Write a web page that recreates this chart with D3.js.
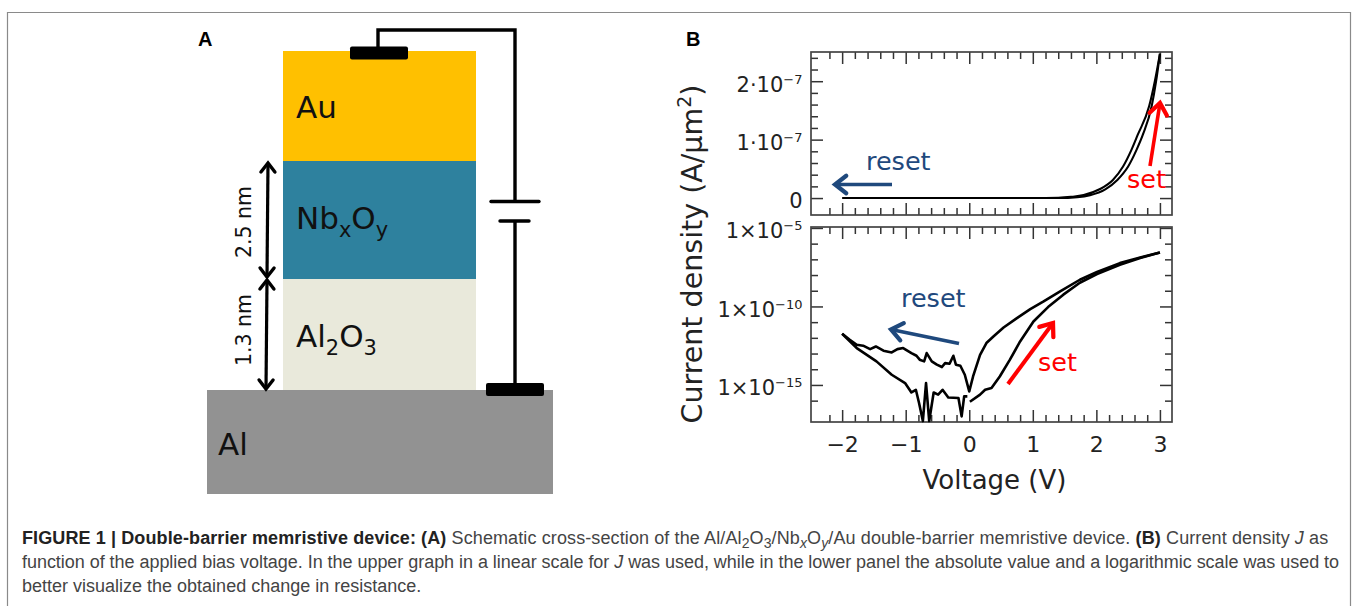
<!DOCTYPE html>
<html>
<head>
<meta charset="utf-8">
<script src="https://cdnjs.cloudflare.com/ajax/libs/d3/7.8.5/d3.min.js"></script>
<style>
body { margin: 0; background: #fff; }
svg { display: block; }
text { font-family: "DejaVu Sans", sans-serif; }
.caption text { font-family: "Liberation Sans", Arial, sans-serif; font-size: 18px; fill: #444; }
.panel-letter { font-family: "Liberation Sans", Arial, sans-serif; font-weight: bold; font-size: 20px; }
.axis line { stroke: #333; stroke-width: 1.5; }
.axis path { display: none; }
.axis text { font-size: 22px; fill: #222; }
.ylab text { font-size: 21px; }
.frame { fill: none; stroke: #444; stroke-width: 1.7; }
.curve { fill: none; stroke: #000; stroke-width: 2.6; stroke-linejoin: round; }
.curve.thin { stroke-width: 2.1; }
</style>
</head>
<body>
<script>
const width = 1357, height = 606;

// panel B, upper graph: J in units of 1e-7 A/um2
const linLeftV = [-2, -1, 0, 1, 1.4, 1.6, 1.8, 2.05, 2.26, 2.42, 2.55, 2.65, 2.83, 2.92, 3];
const linLeftJ = [0, 0, 0, 0, 0.005, 0.02, 0.05, 0.15, 0.31, 0.54, 0.82, 1.08, 1.57, 2.0, 2.47];
const linRightV = [1.2, 1.4, 1.7, 1.9, 2.14, 2.33, 2.5, 2.63, 2.73, 2.87, 2.94, 3];
const linRightJ = [0, 0, 0.015, 0.05, 0.15, 0.31, 0.54, 0.82, 1.08, 1.57, 2.0, 2.47];

// panel B, lower graph: log10 of |J|
const resetV = [-2, -1.88, -1.77, -1.67, -1.56, -1.47, -1.35, -1.22, -1.13, -1.04, -0.91, -0.83, -0.78, -0.71, -0.67, -0.59, -0.51, -0.43, -0.38, -0.31, -0.25, -0.21, -0.14, -0.07, 0, 0.06, 0.17, 0.27, 0.38, 0.54, 0.75, 0.96, 1.17, 1.43, 1.74, 2.01, 2.37, 2.69, 3];
const resetLogJ = [-11.74, -12.12, -12.44, -12.5, -12.72, -12.55, -12.82, -12.93, -12.72, -12.65, -12.97, -13.14, -13.39, -13.5, -12.97, -13.5, -13.71, -13.86, -13.61, -13.65, -13.14, -13.71, -13.78, -14.35, -15.41, -14.46, -13.08, -12.33, -11.91, -11.34, -10.74, -10.17, -9.68, -9.04, -8.3, -7.81, -7.24, -6.88, -6.56];
const returnV = [-2, -1.77, -1.46, -1.22, -1.01, -0.91, -0.84, -0.79, -0.73, -0.68, -0.63, -0.56, -0.49, -0.42, -0.33, -0.17, -0.12, -0.08, -0.03];
const returnLogJ = [-11.74, -12.65, -13.5, -14.35, -14.88, -15.48, -15.31, -16.15, -17.3, -14.88, -17.3, -15.48, -15.62, -15.31, -15.8, -15.83, -17, -15.73, -15.73];
const setV = [0.01, 0.17, 0.25, 0.35, 0.48, 0.64, 0.8, 1.01, 1.24, 1.48, 1.74, 2.01, 2.37, 2.69, 3];
const setLogJ = [-16.07, -15.62, -15.31, -15.2, -14.46, -13.39, -12.23, -10.96, -10.04, -9.25, -8.49, -7.94, -7.34, -6.92, -6.56];

// ticks
const xMajor = [-2, -1, 0, 1, 2, 3];
const xMinor = [-2.2, -1.8, -1.6, -1.4, -1.2, -0.8, -0.6, -0.4, -0.2, 0.2, 0.4, 0.6, 0.8, 1.2, 1.4, 1.6, 1.8, 2.2, 2.4, 2.6, 2.8];
const linMajor = [0, 1, 2];
const linMinor = [0.2, 0.4, 0.6, 0.8, 1.2, 1.4, 1.6, 1.8, 2.2, 2.4];
const linLabels = [["0", ""], ["1·10", "−7"], ["2·10", "−7"]];
const logMajor = [-15, -10, -5];
const logMinor = [-16, -14, -13, -12, -11, -9, -8, -7, -6];
const logLabels = [["1×10", "−15"], ["1×10", "−10"], ["1×10", "−5"]];

// panel A
const layerNames = ["Al", "Al2O3", "NbxOy", "Au"];
const layerHeights = [104, 111, 118, 110];
const layerColors = ["#929292", "#e9e9db", "#2e819e", "#ffc000"];

const captionLines = [
  [["FIGURE 1 | Double-barrier memristive device: (A)", "b"], [" Schematic cross-section of the Al/Al"], ["2", "s"], ["O"], ["3", "s"], ["/Nb"], ["x", "si"], ["O"], ["y", "si"], ["/Au double-barrier memristive device. "], ["(B)", "b"], [" Current density "], ["J", "i"], [" as"]],
  [["function of the applied bias voltage. In the upper graph in a linear scale for "], ["J", "i"], [" was used, while in the lower panel the absolute value and a logarithmic scale was used to"]],
  [["better visualize the obtained change in resistance."]]
];

const svg = d3.select("body").append("svg")
  .attr("width", width)
  .attr("height", height);

// outer figure border, open at the bottom
svg.append("path")
  .attr("d", "M7.5,606V12.5H1350.5V606")
  .attr("fill", "none")
  .attr("stroke", "#8a8a8a")
  .attr("stroke-width", 1.2);

function arrowMarker(id, color, size) {
  svg.append("defs").append("marker")
    .attr("id", id)
    .attr("markerUnits", "userSpaceOnUse")
    .attr("viewBox", "-12 -10 20 20")
    .attr("markerWidth", size)
    .attr("markerHeight", size)
    .attr("refX", 0).attr("refY", 0)
    .attr("orient", "auto-start-reverse")
    .append("path")
    .attr("d", "M-9,-7L0,0L-9,7")
    .attr("fill", "none")
    .attr("stroke", color)
    .attr("stroke-width", 3.4)
    .attr("stroke-linecap", "round");
}
arrowMarker("headBlack", "#000", 20);
arrowMarker("headBlue", "#1f497d", 25);
arrowMarker("headRed", "#ff0000", 25);

function arrow(x1, y1, x2, y2, color, head, w) {
  svg.append("line")
    .attr("x1", x1).attr("y1", y1).attr("x2", x2).attr("y2", y2)
    .attr("stroke", color)
    .attr("stroke-width", w)
    .attr("marker-end", `url(#${head})`);
}

// ---- panel A ----
const stackY = d3.scaleLinear().domain([0, d3.sum(layerHeights)]).range([494, 51]);
let base = 0;
layerNames.forEach((name, i) => {
  const top = base + layerHeights[i];
  svg.append("rect")
    .attr("x", i === 0 ? 207 : 283)
    .attr("width", i === 0 ? 346 : 193)
    .attr("y", stackY(top))
    .attr("height", stackY(base) - stackY(top))
    .attr("fill", layerColors[i]);
  base = top;
});

function layerLabel(x, y, parts) {
  const t = svg.append("text").attr("x", x).attr("y", y).attr("font-size", 31).attr("fill", "#111");
  let low = false;
  parts.forEach(p => {
    const sub = p[1] === "s";
    const span = t.append("tspan").text(p[0]);
    if (sub) span.attr("font-size", 21).attr("dy", 8);
    else if (low) span.attr("dy", -8);
    low = sub;
  });
}
layerLabel(296, 118, [["Au"]]);
layerLabel(296, 229, [["Nb"], ["x", "s"], ["O"], ["y", "s"]]);
layerLabel(296, 347, [["Al"], ["2", "s"], ["O"], ["3", "s"]]);
layerLabel(218, 455, [["Al"]]);

// circuit
const wire = d3.line();
svg.append("path")
  .attr("d", wire([[378, 50], [378, 30], [515, 30], [515, 201]]))
  .attr("fill", "none").attr("stroke", "#000").attr("stroke-width", 3.4);
svg.append("path")
  .attr("d", wire([[515, 221], [515, 385]]))
  .attr("fill", "none").attr("stroke", "#000").attr("stroke-width", 3.4);
svg.append("rect").attr("x", 350).attr("y", 46.5).attr("width", 58).attr("height", 13).attr("rx", 2);
svg.append("rect").attr("x", 486).attr("y", 383).attr("width", 58).attr("height", 13).attr("rx", 2);
svg.append("line").attr("x1", 491).attr("x2", 539).attr("y1", 201.5).attr("y2", 201.5)
  .attr("stroke", "#000").attr("stroke-width", 3.4).attr("stroke-linecap", "round");
svg.append("line").attr("x1", 500).attr("x2", 529).attr("y1", 221).attr("y2", 221)
  .attr("stroke", "#000").attr("stroke-width", 3.4).attr("stroke-linecap", "round");

// thickness arrows
svg.append("line").attr("x1", 268).attr("y1", 163).attr("x2", 267).attr("y2", 277)
  .attr("stroke", "#000").attr("stroke-width", 3.2)
  .attr("marker-start", "url(#headBlack)").attr("marker-end", "url(#headBlack)");
svg.append("line").attr("x1", 267).attr("y1", 280).attr("x2", 266).attr("y2", 389)
  .attr("stroke", "#000").attr("stroke-width", 3.2)
  .attr("marker-start", "url(#headBlack)").attr("marker-end", "url(#headBlack)");
[["2.5 nm", 222], ["1.3 nm", 330]].forEach(([s, cy]) => {
  svg.append("text")
    .attr("transform", `translate(251,${cy}) rotate(-90)`)
    .attr("text-anchor", "middle")
    .attr("font-size", 20.5)
    .attr("fill", "#111")
    .text(s);
});

svg.append("text").attr("class", "panel-letter").attr("x", 198).attr("y", 46).text("A");
svg.append("text").attr("class", "panel-letter").attr("x", 686).attr("y", 46).text("B");

// ---- panel B ----
const plotLeft = 811, plotRight = 1172;
const scaleX = d3.scaleLinear().domain([-2.49, 3.19]).range([plotLeft, plotRight]);
const scaleLin = d3.scaleLinear().domain([-0.29, 2.5]).range([215, 52]);
const scaleLog = d3.scaleLog().domain([Math.pow(10, -17.36), Math.pow(10, -4.94)]).range([422, 227]);

function drawTicks(cls, axisFn, scale, values, len, transform, padding, fmt) {
  return svg.append("g")
    .attr("class", "axis " + cls)
    .attr("transform", transform)
    .call(axisFn(scale).tickValues(values).tickSizeInner(-len).tickSizeOuter(0)
      .tickPadding(padding).tickFormat(fmt || ""));
}

function xTicks(top, bottom) {
  drawTicks("x", d3.axisTop, scaleX, xMinor, 7, `translate(0,${top})`, 3);
  drawTicks("x", d3.axisTop, scaleX, xMajor, 12, `translate(0,${top})`, 3);
  drawTicks("x", d3.axisBottom, scaleX, xMinor, 7, `translate(0,${bottom})`, 3);
}

function yTicks(scale, major, minor, labels) {
  drawTicks("y", d3.axisRight, scale, minor, 7, `translate(${plotRight},0)`, 3);
  drawTicks("y", d3.axisRight, scale, major, 12, `translate(${plotRight},0)`, 3);
  drawTicks("y", d3.axisLeft, scale, minor, 7, `translate(${plotLeft},0)`, 3);
  const g = drawTicks("y ylab", d3.axisLeft, scale, major, 12, `translate(${plotLeft},0)`, 8.5, () => "");
  g.selectAll(".tick text").each(function(d, i) {
    const t = d3.select(this).attr("dy", "0.47em");
    t.append("tspan").text(labels[i][0]);
    if (labels[i][1]) {
      t.append("tspan").attr("font-size", 13).attr("dy", -8).text(labels[i][1]);
    }
  });
}

// upper graph
xTicks(52, 215);
svg.append("g").attr("class", "axis x")
  .attr("transform", "translate(0,215)")
  .call(d3.axisBottom(scaleX).tickValues(xMajor).tickSizeInner(-12).tickSizeOuter(0).tickFormat(""));
yTicks(scaleLin, linMajor, linMinor, linLabels);
svg.append("rect").attr("class", "frame").attr("x", plotLeft).attr("y", 52).attr("width", plotRight - plotLeft).attr("height", 163);

const lineLin = d3.line().curve(d3.curveMonotoneX).x(d => scaleX(d[0])).y(d => scaleLin(d[1]));
svg.append("path").attr("class", "curve thin").attr("d", lineLin(d3.zip(linLeftV, linLeftJ)));
svg.append("path").attr("class", "curve thin").attr("d", lineLin(d3.zip(linRightV, linRightJ)));

// lower graph
xTicks(227, 422);
svg.append("g").attr("class", "axis x")
  .attr("transform", "translate(0,422)")
  .call(d3.axisBottom(scaleX).tickValues(xMajor).tickSizeInner(-12).tickSizeOuter(0).tickPadding(14)
    .tickFormat(d => d3.format("d")(d).replace("-", "−")));
yTicks(scaleLog, logMajor.map(e => Math.pow(10, e)), logMinor.map(e => Math.pow(10, e)), logLabels);
svg.append("rect").attr("class", "frame").attr("x", plotLeft).attr("y", 227).attr("width", plotRight - plotLeft).attr("height", 195);

const lineLog = d3.line().x(d => scaleX(d[0])).y(d => scaleLog(Math.pow(10, d[1])));
[[resetV, resetLogJ], [returnV, returnLogJ], [setV, setLogJ]].forEach(([v, j]) => {
  svg.append("path").attr("class", "curve").attr("d", lineLog(d3.zip(v, j)));
});

// axis titles
svg.append("text")
  .attr("x", 994.5).attr("y", 489)
  .attr("text-anchor", "middle")
  .attr("font-size", 26)
  .attr("fill", "#222")
  .text("Voltage (V)");
const yTitle = svg.append("text")
  .attr("transform", "translate(702,254) rotate(-90)")
  .attr("text-anchor", "middle")
  .attr("font-size", 28.5)
  .attr("fill", "#222");
yTitle.append("tspan").text("Current density (A/μm");
yTitle.append("tspan").attr("font-size", 19).attr("dy", -11).text("2");
yTitle.append("tspan").attr("dy", 11).text(")");

// annotations
function note(s, x, y, color) {
  svg.append("text").attr("x", x).attr("y", y).attr("font-size", 25.5).attr("fill", color).text(s);
}
note("reset", 866, 170, "#1f497d");
note("set", 1127, 188, "#ff0000");
note("reset", 901, 307, "#1f497d");
note("set", 1038, 371, "#ff0000");
arrow(892, 184.5, 835, 184.5, "#1f497d", "headBlue", 3.6);
arrow(1150, 166, 1160, 103, "#ff0000", "headRed", 3.6);
arrow(959, 343.5, 891, 329.5, "#1f497d", "headBlue", 3.6);
arrow(1008, 384, 1053, 323, "#ff0000", "headRed", 4);

// caption, line 1 and 2 nudged so they both end near the reference's right edge
const capY = [544, 568, 592];
const capSpacing = [0.11, -0.04, 0];
const cap = svg.append("g").attr("class", "caption");
captionLines.forEach((line, i) => {
  const t = cap.append("text").attr("x", 22).attr("y", capY[i]).attr("letter-spacing", capSpacing[i]);
  let low = false;
  line.forEach(([s, kind]) => {
    const span = t.append("tspan").text(s);
    if (kind === "b") span.attr("font-weight", "bold").attr("fill", "#222");
    if (kind === "i" || kind === "si") span.attr("font-style", "italic");
    const sub = kind === "s" || kind === "si";
    if (sub) span.attr("font-size", 14).attr("dy", 4);
    else if (low) span.attr("dy", -4);
    low = sub;
  });
});
</script>
</body>
</html>
